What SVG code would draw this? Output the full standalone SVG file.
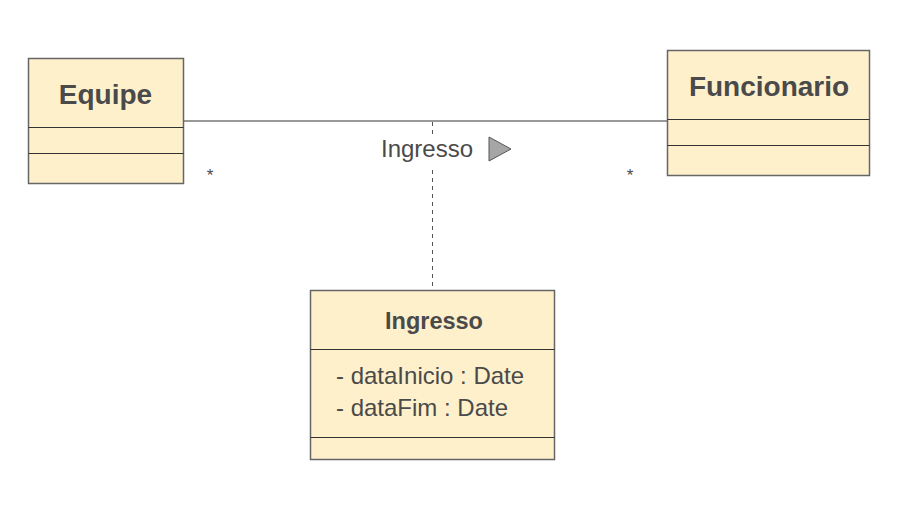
<svg xmlns="http://www.w3.org/2000/svg" width="902" height="507" viewBox="0 0 902 507">
<style>
.box{fill:#fff0cc;stroke:#666;stroke-width:1.5}
.sep{stroke:#333;stroke-width:1}
.t{font-family:"Liberation Sans",Arial,sans-serif;fill:#4a4a4a}
.b{font-weight:bold;text-anchor:middle}
.ln{stroke:#777;stroke-width:1.5;fill:none}
</style>
<rect width="902" height="507" fill="#fff"/>
<g id="connectors">
<line class="ln" x1="183" y1="121" x2="667" y2="121"/>
<line x1="432.5" y1="122" x2="432.5" y2="290" stroke="#555" stroke-width="1" stroke-dasharray="4,4"/>
<rect x="378" y="134" width="106" height="32" fill="#fff"/>
<text class="t" x="381" y="157" font-size="24">Ingresso</text>
<polygon points="489,137 511,149 489,161" fill="#a6a6a6" stroke="#555" stroke-width="1"/>
<text class="t" x="210" y="181" font-size="17" text-anchor="middle">*</text>
<text class="t" x="630" y="181" font-size="17" text-anchor="middle">*</text>
</g>
<g id="Equipe">
<rect class="box" x="28.5" y="58.5" width="155" height="125"/>
<line class="sep" x1="28.5" y1="127.5" x2="183.5" y2="127.5"/>
<line class="sep" x1="28.5" y1="153.5" x2="183.5" y2="153.5"/>
<text class="t b" x="105.5" y="104" font-size="28">Equipe</text>
</g>
<g id="Funcionario">
<rect class="box" x="667.5" y="50.5" width="202" height="125"/>
<line class="sep" x1="667.5" y1="119.5" x2="869.5" y2="119.5"/>
<line class="sep" x1="667.5" y1="145.5" x2="869.5" y2="145.5"/>
<text class="t b" x="769" y="96" font-size="28">Funcionario</text>
</g>
<g id="Ingresso">
<rect class="box" x="310.5" y="290.5" width="244" height="169"/>
<line class="sep" x1="310.5" y1="349.5" x2="554.5" y2="349.5"/>
<line class="sep" x1="310.5" y1="437.5" x2="554.5" y2="437.5"/>
<text class="t b" x="434" y="329" font-size="23.5">Ingresso</text>
<text class="t" x="336" y="384" font-size="24">- dataInicio : Date</text>
<text class="t" x="336" y="416" font-size="24">- dataFim : Date</text>
</g>
</svg>
